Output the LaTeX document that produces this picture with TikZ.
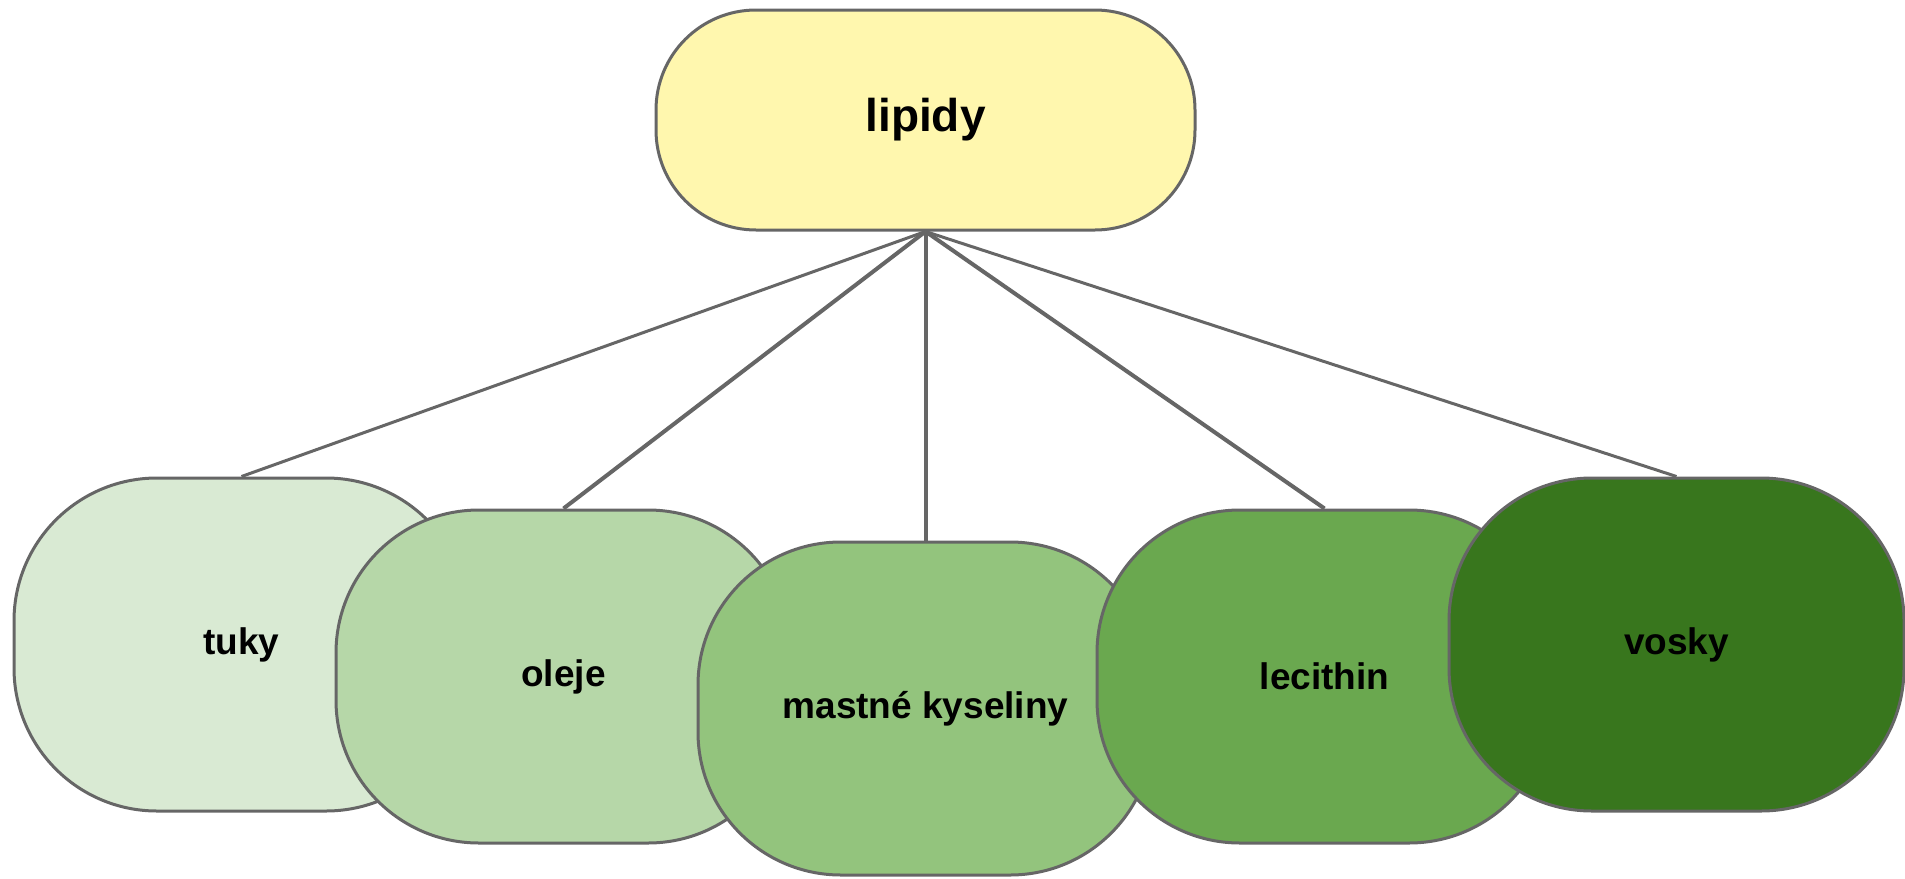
\documentclass[tikz,border=0pt]{standalone}
\usepackage{fontspec}
\setmainfont{Liberation Sans}
\definecolor{bordergray}{HTML}{666666}
\definecolor{yellowfill}{HTML}{FFF7AE}
\definecolor{gA}{HTML}{D9EAD3}
\definecolor{gB}{HTML}{B6D7A8}
\definecolor{gC}{HTML}{93C47D}
\definecolor{gD}{HTML}{6AA84F}
\definecolor{gE}{HTML}{38761D}
\begin{document}
\begin{tikzpicture}[x=1pt,y=-1pt,
  topbox/.style={draw=bordergray, line width=3pt, fill=yellowfill, rounded corners=100pt,
    minimum width=539pt, minimum height=220pt, inner sep=0pt,
    font=\fontsize{46}{50}\selectfont\bfseries},
  leafbox/.style={draw=bordergray, line width=3pt, rounded corners=143pt,
    minimum width=455pt, minimum height=333pt, inner sep=0pt,
    font=\fontsize{37}{42}\selectfont\bfseries},
  thinlink/.style={draw=bordergray, line width=3pt},
  thicklink/.style={draw=bordergray, line width=4pt}]
\useasboundingbox (0,0) rectangle (1905,878);
\node[topbox] (lipidy) at (925.5,120) {lipidy};
\node[leafbox, fill=gA] (tuky) at (241.5,644.5) {tuky};
\node[leafbox, fill=gB] (oleje) at (563.5,676.5) {oleje};
\node[leafbox, fill=gC] (mastne) at (925.5,708.5) {mastné kyseliny};
\node[leafbox, fill=gD] (lecithin) at (1324.5,676.5) {lecithin};
\node[leafbox, fill=gE] (vosky) at (1676.5,644.5) {vosky};
\draw[thinlink] (lipidy.south) -- (tuky.north);
\draw[thicklink] (lipidy.south) -- (oleje.north);
\draw[thicklink] (lipidy.south) -- (mastne.north);
\draw[thicklink] (lipidy.south) -- (lecithin.north);
\draw[thinlink] (lipidy.south) -- (vosky.north);
\end{tikzpicture}
\end{document}
